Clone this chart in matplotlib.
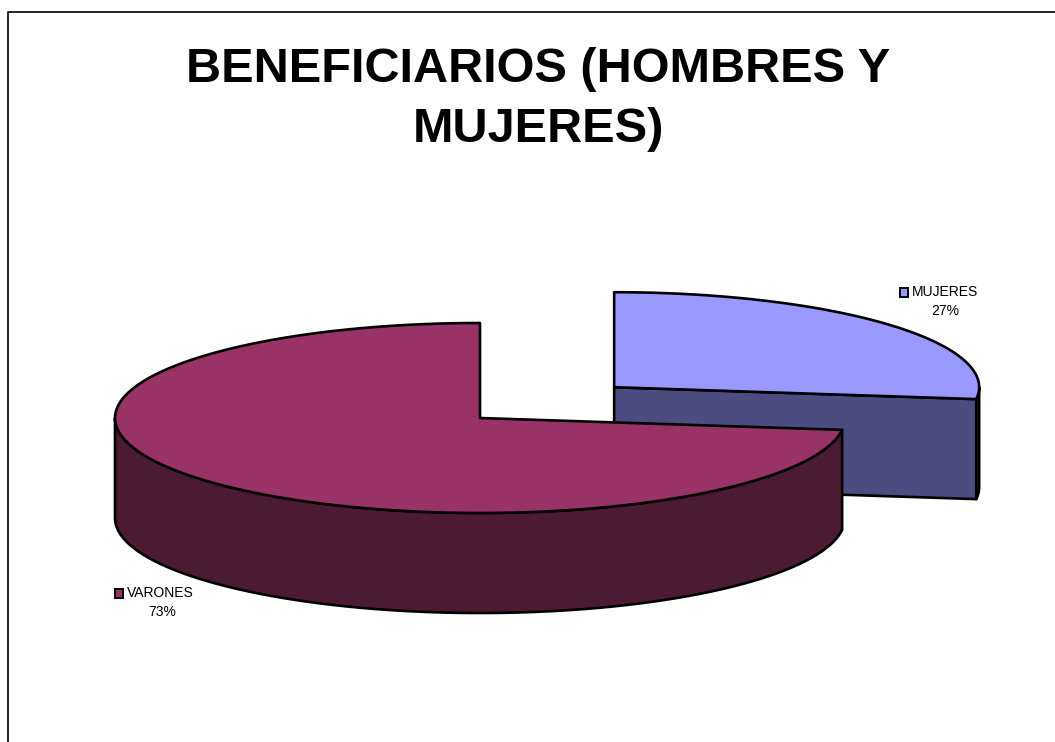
import numpy as np
import matplotlib
matplotlib.use("Agg")
import matplotlib.pyplot as plt
from matplotlib.patches import Polygon, Rectangle

# ---- data ----
categories = ["VARONES", "MUJERES"]
values = [73, 27]
pct_labels = ["73%", "27%"]
title_lines = ["BENEFICIARIOS (HOMBRES Y", "MUJERES)"]

# ---- style ----
top_colors = ["#993366", "#9999FF"]
side_colors = ["#4D1A33", "#4C4C80"]
explode = [0.0, 0.49]
center = (480.0, 418.0)   # pixel space
rx, ry, depth = 365.0, 95.0, 100.0
start_angle = 90.0
label_pos = [(127, 593), (912, 292)]   # left edge of name text
pct_pos = [(162, 612), (945, 311)]

W, H = 1055, 742
fig = plt.figure(figsize=(W / 100, H / 100), dpi=100)
ax = fig.add_axes([0, 0, 1, 1])
ax.set_xlim(0, W)
ax.set_ylim(H, 0)
ax.axis("off")

# border (left and top)
ax.plot([8, 8, W], [H, 12, 12], color="black", lw=1.2, solid_capstyle="butt")


def pt(cx, cy, th, dz=0.0):
    t = np.radians(th)
    return cx + rx * np.cos(t), cy - ry * np.sin(t) + dz


def arc(cx, cy, a, b, dz=0.0, n=200):
    th = np.linspace(a, b, n)
    t = np.radians(th)
    return np.column_stack([cx + rx * np.cos(t), cy - ry * np.sin(t) + dz])


total = float(sum(values))
slices = []
a = start_angle
for i, v in enumerate(values):
    b = a + 360.0 * v / total
    mid = np.radians((a + b) / 2)
    cx = center[0] + explode[i] * rx * np.cos(mid)
    cy = center[1] - explode[i] * ry * np.sin(mid)
    slices.append((i, a, b, cx, cy))
    a = b

# draw back-most slice first (smaller screen y of center)
order = sorted(slices, key=lambda s: s[4])
lw = 1.9
for i, a, b, cx, cy in order:
    # radial wall at start edge
    if np.cos(np.radians(a)) > 1e-6:
        p = pt(cx, cy, a)
        poly = [(cx, cy), p, (p[0], p[1] + depth), (cx, cy + depth)]
        ax.add_patch(Polygon(poly, closed=True, facecolor=side_colors[i],
                             edgecolor="black", lw=lw, joinstyle="round"))
    # radial wall at end edge
    if np.cos(np.radians(b)) < -1e-6:
        p = pt(cx, cy, b)
        poly = [(cx, cy), p, (p[0], p[1] + depth), (cx, cy + depth)]
        ax.add_patch(Polygon(poly, closed=True, facecolor=side_colors[i],
                             edgecolor="black", lw=lw, joinstyle="round"))
    # outer wall, front-facing part
    for k in (-1, 0, 1):
        lo, hi = max(a, 180 + 360 * k), min(b, 360 + 360 * k)
        if hi > lo:
            topa = arc(cx, cy, lo, hi)
            bot = arc(cx, cy, lo, hi, depth)[::-1]
            ax.add_patch(Polygon(np.vstack([topa, bot]), closed=True,
                                 facecolor=side_colors[i], edgecolor="black",
                                 lw=lw, joinstyle="round"))
    # top face
    topa = arc(cx, cy, a, b)
    ax.add_patch(Polygon(np.vstack([[cx, cy], topa]), closed=True,
                         facecolor=top_colors[i], edgecolor="black", lw=lw,
                         joinstyle="round"))

# labels
font = "Liberation Sans"
for i, name in enumerate(categories):
    x, y = label_pos[i]
    ax.add_patch(Rectangle((x - 12, y - 4.5), 8, 9, facecolor=top_colors[i],
                           edgecolor="black", lw=1.4))
    ax.text(x, y, name, ha="left", va="center", fontsize=10, family=font)
    px, py = pct_pos[i]
    ax.text(px, py, pct_labels[i], ha="center", va="center", fontsize=10,
            family=font)

# title
ax.text(538, 69, title_lines[0], ha="center", va="center", fontsize=35,
        fontweight="bold", family=font)
ax.text(538, 129, title_lines[1], ha="center", va="center", fontsize=35,
        fontweight="bold", family=font)

fig.savefig("out.png", dpi=100)
